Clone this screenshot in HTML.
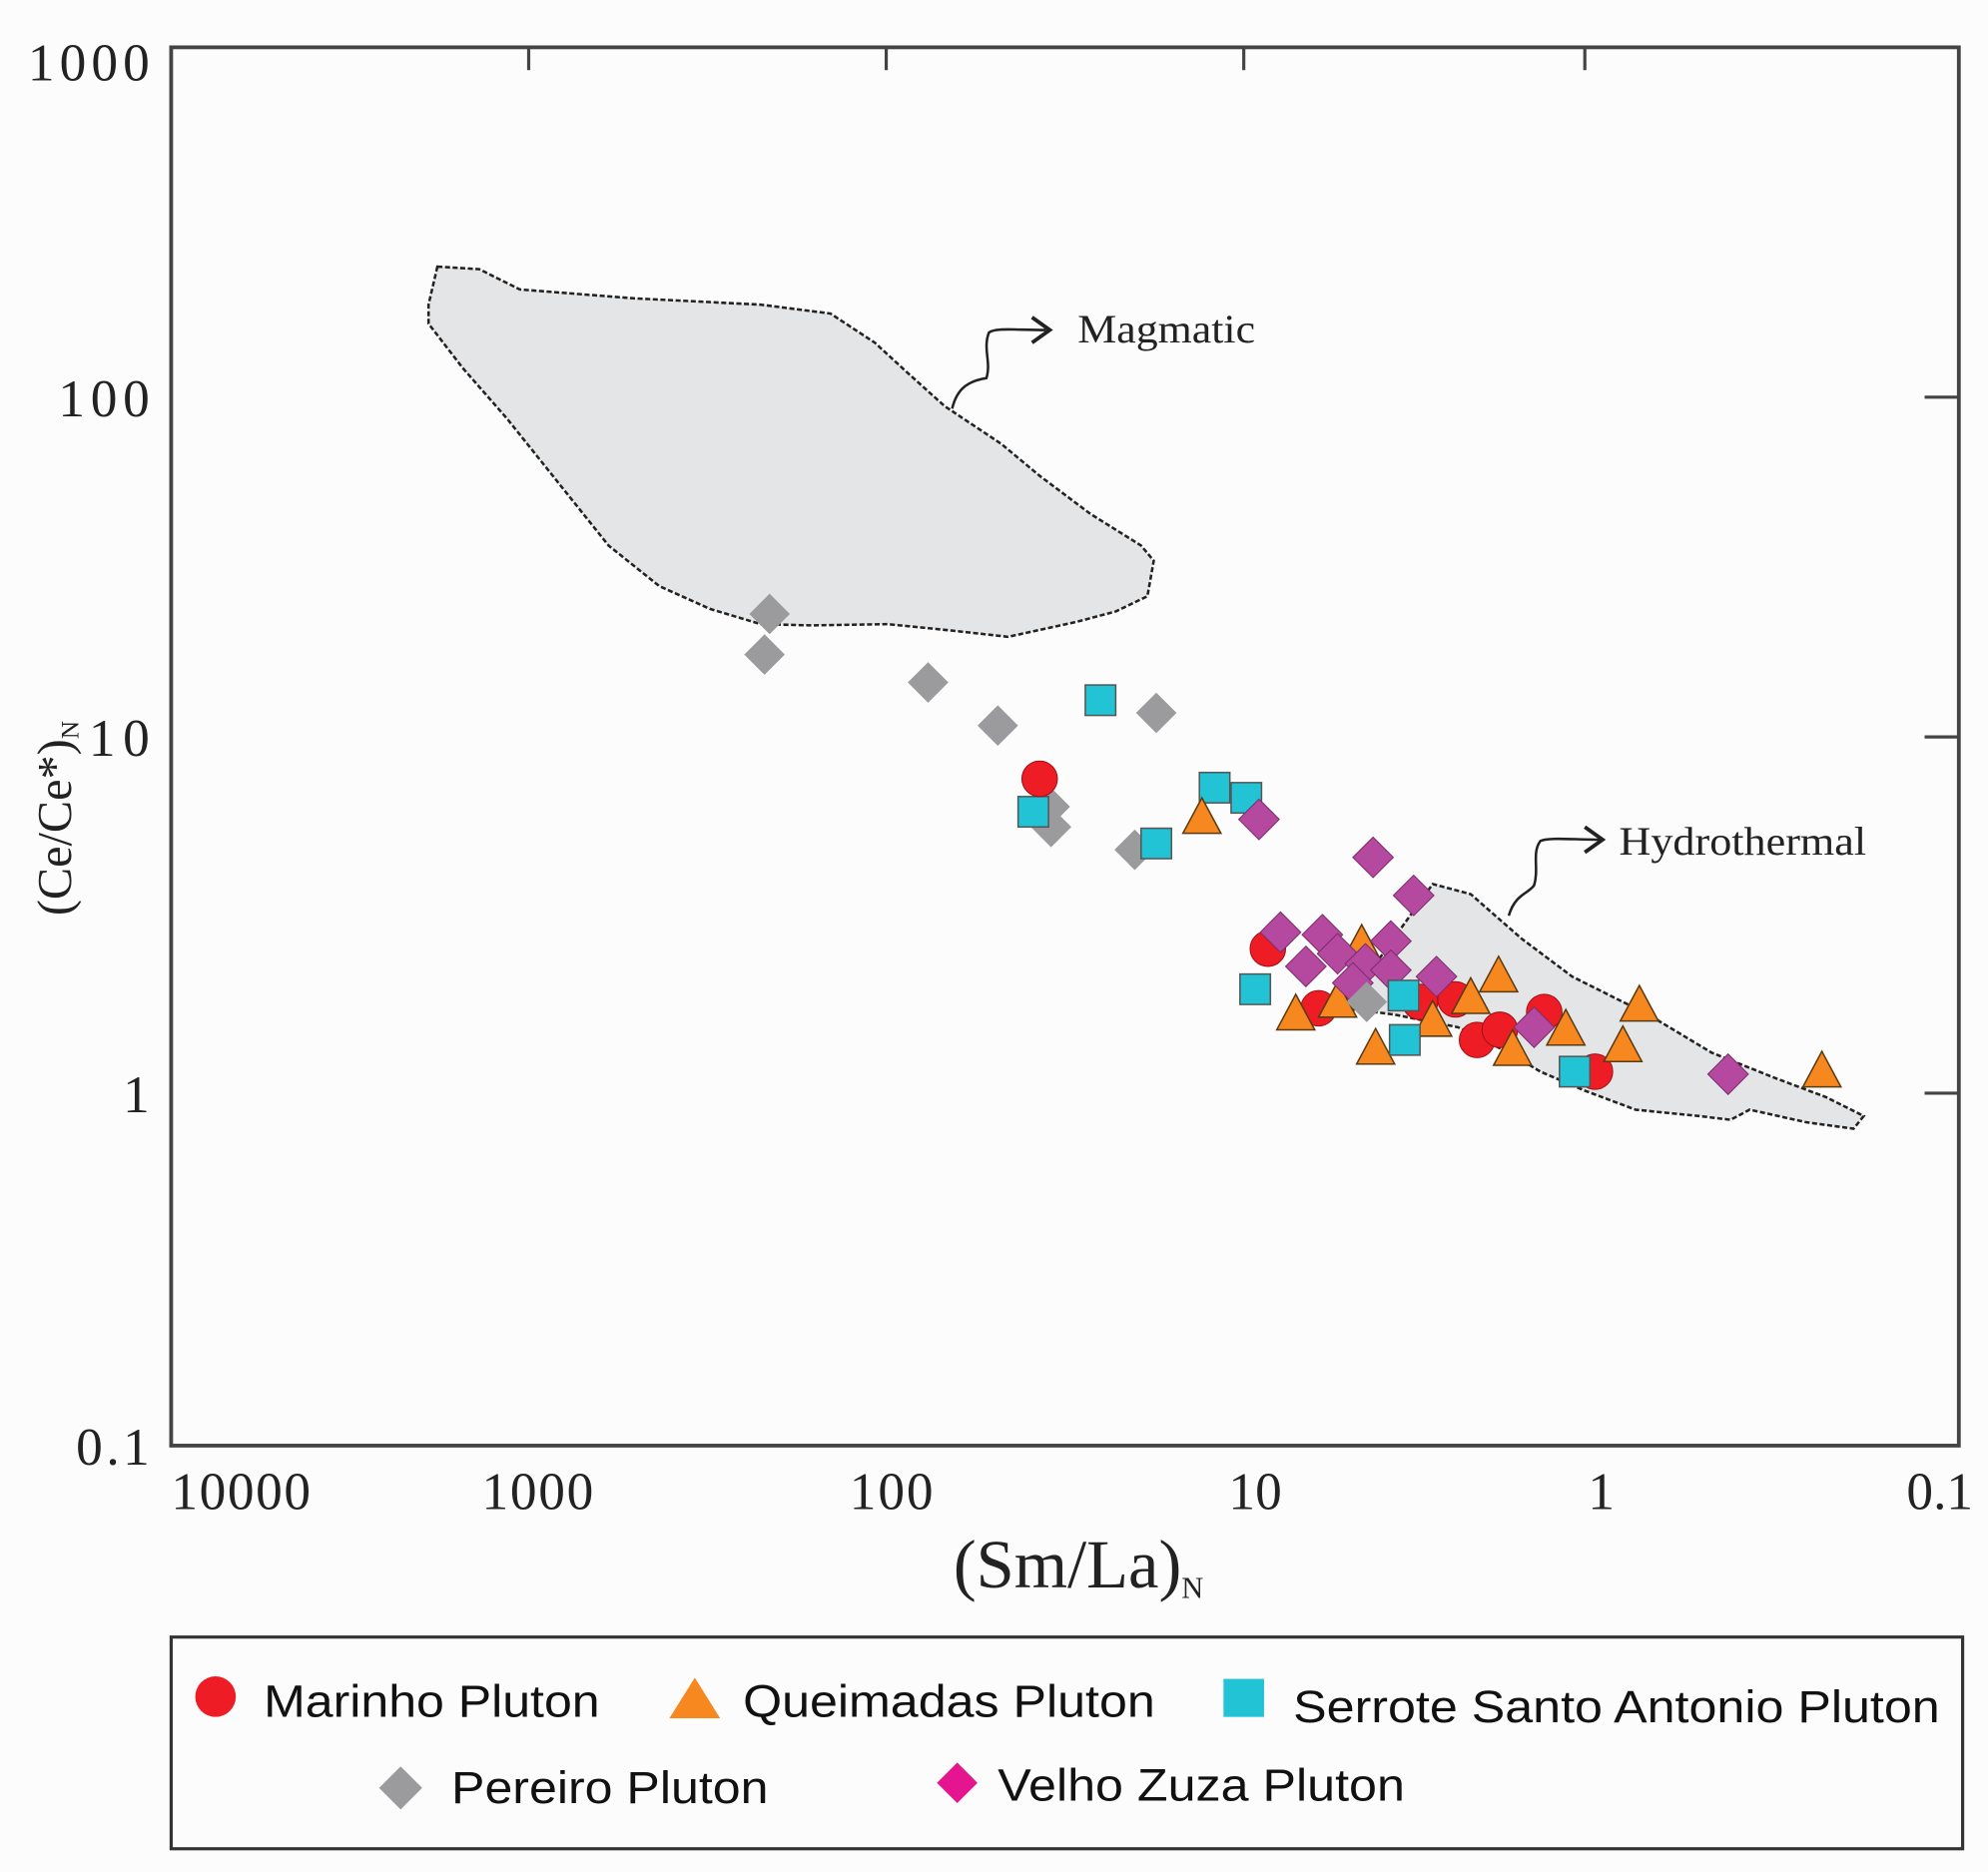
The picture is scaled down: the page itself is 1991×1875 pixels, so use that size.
<!DOCTYPE html>
<html><head><meta charset="utf-8"><style>
html,body{margin:0;padding:0;background:#fcfcfc;}
svg{display:block}
.s{font-family:"Liberation Serif",serif;fill:#222}
.a{font-family:"Liberation Sans",sans-serif;fill:#111}
</style></head><body>
<svg width="1991" height="1875" viewBox="0 0 1568 1476" xmlns="http://www.w3.org/2000/svg">
<defs>
<g id="pd"><polygon points="0,-16 16,0 0,16 -16,0" fill="#9b9b9d"/></g>
<g id="vz"><polygon points="0,-16 16,0 0,16 -16,0" fill="#b5489f" stroke="#7a2e6c" stroke-width="0.8"/></g>
<g id="sq"><rect x="-12" y="-12" width="24" height="24" fill="#22c3d4" stroke="#555" stroke-width="1.2"/></g>
<g id="ci"><circle r="14" fill="#ee1c24" stroke="#a01015" stroke-width="0.8"/></g>
<g id="tr"><polygon points="0,-16 15,12 -15,12" fill="#f7871f" stroke="#5a3a10" stroke-width="1.2"/></g>
</defs>
<rect width="1568" height="1476" fill="#fcfcfc"/>
<path d="M345,210 L378,212 L410,228 L500,235 L600,240 L655,247 L690,270 L715,293 L745,320 L790,350 L820,375 L860,405 L900,430 L910,442 L905,470 L880,482 L850,490 L795,502 L750,497 L700,492 L640,493 L600,492 L560,480 L520,462 L480,430 L440,380 L400,330 L365,290 L338,255 L338,240 Z" fill="#e4e5e7" stroke="#222" stroke-width="2" stroke-dasharray="4,2"/>
<path d="M1050,785 L1085,760 L1110,725 L1130,697 L1160,705 L1200,740 L1240,770 L1300,800 L1350,830 L1400,850 L1440,865 L1470,880 L1462,890 L1425,885 L1380,875 L1365,883 L1340,880 L1290,875 L1250,860 L1215,845 L1190,830 L1150,810 L1100,800 L1060,795 Z" fill="#e4e5e7" stroke="#222" stroke-width="2" stroke-dasharray="4,2"/>
<path d="M751,322 C755,305 765,300 778,298 C782,285 775,275 780,262 C785,258 800,260 825,260" fill="none" stroke="#222" stroke-width="2"/>
<path d="M814,250 L828,260 L814,270" fill="none" stroke="#222" stroke-width="3"/>
<path d="M1190,722 C1195,705 1205,705 1210,698 C1214,685 1208,672 1215,663 C1222,660 1240,662 1262,662" fill="none" stroke="#222" stroke-width="2"/>
<path d="M1250,652 L1264,662 L1250,672" fill="none" stroke="#222" stroke-width="3"/>
<text class="s" x="850" y="270" font-size="32" textLength="140" lengthAdjust="spacingAndGlyphs">Magmatic</text>
<text class="s" x="1277" y="674" font-size="32" textLength="195" lengthAdjust="spacingAndGlyphs">Hydrothermal</text>
<rect x="135" y="37" width="1410" height="1103" fill="none" stroke="#444" stroke-width="3"/>
<g stroke="#444" stroke-width="2.5">
<line x1="417" y1="37" x2="417" y2="55"/><line x1="699" y1="37" x2="699" y2="55"/><line x1="981" y1="37" x2="981" y2="55"/><line x1="1250" y1="37" x2="1250" y2="55"/>
<line x1="1545" y1="313" x2="1518" y2="313"/><line x1="1545" y1="581" x2="1518" y2="581"/><line x1="1545" y1="862" x2="1518" y2="862"/>
</g>
<g class="s" font-size="42" text-anchor="end" lengthAdjust="spacingAndGlyphs">
<text x="118" y="63" textLength="96">1000</text><text x="118" y="328" textLength="72">100</text><text x="118" y="596" textLength="48">10</text><text x="118" y="877">1</text><text x="118" y="1155" textLength="58">0.1</text>
</g>
<g class="s" font-size="42" text-anchor="middle">
<text x="190" y="1190" textLength="110">10000</text><text x="424" y="1190" textLength="88">1000</text><text x="703" y="1190" textLength="66">100</text><text x="990" y="1190">10</text><text x="1263" y="1190">1</text><text x="1530" y="1190">0.1</text>
</g>
<text class="s" x="752" y="1252" font-size="54">(Sm/La)<tspan font-size="24" dy="8">N</tspan></text>
<text class="s" font-size="38" transform="translate(56,722) rotate(-90)">(Ce/Ce*)<tspan font-size="20" dy="6">N</tspan></text>
<use href="#pd" x="607" y="484"/><use href="#pd" x="603" y="516"/><use href="#pd" x="732" y="538"/><use href="#pd" x="787" y="572"/><use href="#pd" x="912" y="562"/><use href="#pd" x="828" y="636"/><use href="#pd" x="829" y="652"/><use href="#pd" x="895" y="670"/>
<use href="#sq" x="868" y="552"/><use href="#sq" x="958" y="621"/><use href="#sq" x="983" y="629"/><use href="#sq" x="815" y="640"/><use href="#sq" x="912" y="665"/><use href="#sq" x="990" y="780"/>
<use href="#ci" x="820" y="614"/>
<use href="#tr" x="948" y="645"/>
<use href="#vz" x="993" y="646"/>
<use href="#ci" x="1000" y="748"/><use href="#ci" x="1040" y="795"/><use href="#ci" x="1120" y="790"/><use href="#ci" x="1148" y="788"/><use href="#ci" x="1165" y="820"/><use href="#ci" x="1183" y="812"/><use href="#ci" x="1218" y="798"/><use href="#ci" x="1258" y="845"/>
<use href="#tr" x="1074" y="745"/><use href="#tr" x="1182" y="770"/><use href="#tr" x="1022" y="800"/><use href="#tr" x="1055" y="790"/><use href="#tr" x="1160" y="787"/><use href="#tr" x="1130" y="805"/><use href="#tr" x="1085" y="827"/><use href="#tr" x="1193" y="828"/><use href="#tr" x="1235" y="812"/><use href="#tr" x="1280" y="825"/><use href="#tr" x="1293" y="793"/><use href="#tr" x="1437" y="845"/>
<use href="#vz" x="1083" y="676"/><use href="#vz" x="1115" y="706"/><use href="#vz" x="1010" y="735"/><use href="#vz" x="1043" y="737"/><use href="#vz" x="1030" y="762"/><use href="#vz" x="1055" y="752"/><use href="#vz" x="1097" y="742"/><use href="#vz" x="1077" y="760"/><use href="#vz" x="1097" y="765"/><use href="#vz" x="1133" y="770"/><use href="#vz" x="1067" y="775"/><use href="#vz" x="1210" y="810"/><use href="#vz" x="1363" y="847"/>
<use href="#pd" x="1078" y="790"/>
<use href="#sq" x="1107" y="785"/><use href="#sq" x="1108" y="820"/><use href="#sq" x="1242" y="845"/>
<rect x="135" y="1291" width="1413" height="167" fill="#fcfcfc" stroke="#333" stroke-width="2.5"/>
<circle cx="170" cy="1338" r="16" fill="#ee1c24"/>
<text class="a" x="208" y="1354" font-size="36" textLength="265" lengthAdjust="spacingAndGlyphs">Marinho Pluton</text>
<polygon points="548,1323 568,1355 528,1355" fill="#f7871f"/>
<text class="a" x="586" y="1354" font-size="36" textLength="325" lengthAdjust="spacingAndGlyphs">Queimadas Pluton</text>
<rect x="965" y="1324" width="32" height="30" fill="#22c3d4"/>
<text class="a" x="1020" y="1358" font-size="36" textLength="510" lengthAdjust="spacingAndGlyphs">Serrote Santo Antonio Pluton</text>
<polygon points="316,1393 333,1410 316,1427 299,1410" fill="#9b9b9d"/>
<text class="a" x="356" y="1422" font-size="36" textLength="250" lengthAdjust="spacingAndGlyphs">Pereiro Pluton</text>
<polygon points="755,1390 771,1406 755,1422 739,1406" fill="#e5158f"/>
<text class="a" x="787" y="1420" font-size="36" textLength="321" lengthAdjust="spacingAndGlyphs">Velho Zuza Pluton</text>
</svg>
</body></html>
